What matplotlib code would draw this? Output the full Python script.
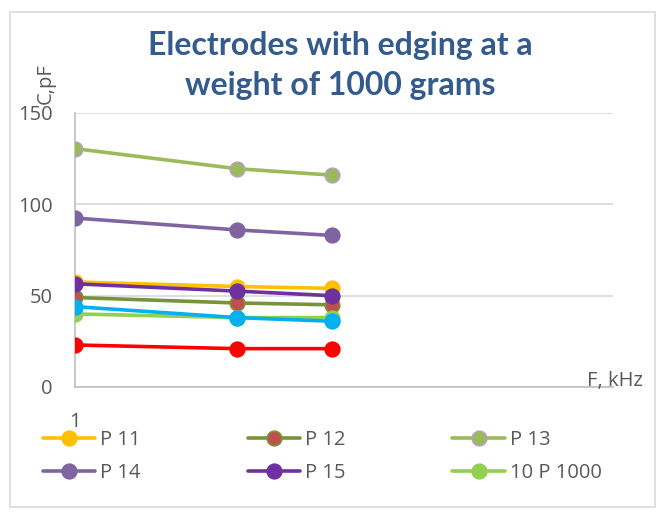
import matplotlib
matplotlib.use("Agg")
import matplotlib.pyplot as plt
from matplotlib.patches import Rectangle

# frequency (kHz) and capacitance (pF) per electrode
freq = [1, 4, 9]
p11 = [57.5, 55, 54]
p12 = [49, 46, 45]
p13 = [130.5, 119.5, 116]
p14 = [92.5, 86, 83]
p15 = [56.5, 52.5, 50]
p10_1000 = [40, 38, 38]
extra_cyan = [44, 38, 36]
extra_red = [23, 21, 21]

series = [
    ("P 11", p11, "#FFC000", "#FFC000", "#FFC000"),
    ("P 12", p12, "#77933C", "#C0504D", "#77933C"),
    ("P 13", p13, "#9BBB59", "#9BBB59", "#B3A2C7"),
    ("P 14", p14, "#8064A2", "#8064A2", "#8064A2"),
    ("P 15", p15, "#7030A0", "#7030A0", "#7030A0"),
    ("10 P 1000", p10_1000, "#92D050", "#92D050", "#92D050"),
    (None, extra_cyan, "#00B0F0", "#00B0F0", "#00B0F0"),
    (None, extra_red, "#FF0000", "#FF0000", "#FF0000"),
]

plt.rcParams["font.family"] = ["Open Sans", "DejaVu Sans"]
grey = "#595959"
fs = 14.5

fig = plt.figure(figsize=(6.68, 5.12), dpi=100)
fig.patches.append(Rectangle((10 / 668, 5 / 512), 645 / 668, 495 / 512,
                             transform=fig.transFigure, fill=False,
                             edgecolor="#D9D9D9", linewidth=1.2))

ax = fig.add_axes([75 / 668, 125 / 512, 538 / 668, 274 / 512])
handles = {}
for name, vals, lc, fc, ec in series:
    h, = ax.plot(freq, vals, color=lc, linewidth=2.6, marker="o", markersize=10.5,
                 markerfacecolor=fc, markeredgecolor=ec, markeredgewidth=1.2,
                 solid_capstyle="round", zorder=3)
    if name:
        handles[name] = h

ax.set_xscale("log")
ax.set_xlim(1, 100)
ax.set_ylim(0, 150)
ax.set_yticks([0, 50, 100, 150])
ax.set_xticks([1])
ax.set_xticklabels(["1"])
ax.xaxis.set_minor_locator(matplotlib.ticker.NullLocator())
ax.tick_params(axis="both", length=0, labelsize=fs, labelcolor=grey)
ax.tick_params(axis="x", pad=18)
ax.tick_params(axis="y", pad=16)
ax.grid(axis="y", color="#D9D9D9", linewidth=1.2, zorder=0)
for s in ("top", "right"):
    ax.spines[s].set_visible(False)
for s in ("left", "bottom"):
    ax.spines[s].set_color("#BFBFBF")
    ax.spines[s].set_linewidth(1.2)

fig.text(46 / 668, 1 - 84 / 512, "C,pF", rotation=90, ha="center", va="center",
         fontsize=fs, color=grey)
fig.text(1 - 25 / 668, 1 - 381 / 512, "F, kHz", ha="right", va="center",
         fontsize=fs, color=grey)

fig.text(340 / 668, 1 - 45 / 512, "Electrodes with edging at a", ha="center",
         va="center", fontsize=23, fontweight="bold", color="#335B8E",
         family=["Lato", "DejaVu Sans"])
fig.text(340 / 668, 1 - 86 / 512, "weight of 1000 grams", ha="center",
         va="center", fontsize=23, fontweight="bold", color="#335B8E",
         family=["Lato", "DejaVu Sans"])

# matplotlib fills legend columns first; order so rows read P11, P12, P13 ...
order = ["P 11", "P 14", "P 12", "P 15", "P 13", "10 P 1000"]
fig.legend([handles[n] for n in order], order, ncol=3,
           loc="upper left", bbox_to_anchor=(43 / 668, 1 - 430 / 512),
           frameon=False, fontsize=fs, labelcolor=grey, handlelength=2.6,
           handletextpad=0.25, columnspacing=5.3, labelspacing=0.65,
           borderaxespad=0, borderpad=0)

fig.savefig("out.png", dpi=100)
